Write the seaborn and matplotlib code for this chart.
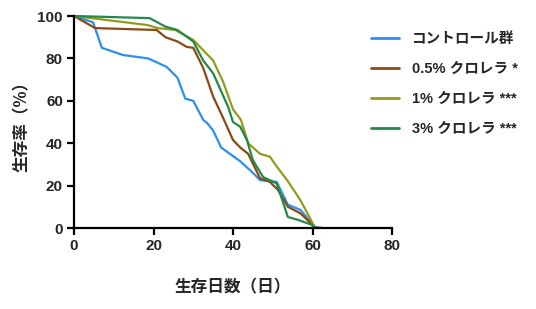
import matplotlib
matplotlib.use("Agg")
import matplotlib.pyplot as plt
import seaborn as sns
import pandas as pd

# ---- data ----
series_names = ["コントロール群", "0.5% クロレラ *", "1% クロレラ ***", "3% クロレラ ***"]
colors = ["#2C8EF2", "#8B4A14", "#959A1C", "#22894A"]

ctrl_x = [0, 4.8, 7, 12.3, 18.6, 21, 23.3, 26, 28, 30, 32.5, 33.5, 35, 37, 41.8, 45, 46.8, 51, 53.8, 57, 60.6, 62.6]
ctrl_y = [100, 97, 85, 81.6, 80, 78, 76, 71, 61, 60, 51, 49.5, 46, 38, 31.5, 26, 22.6, 21.7, 11, 8.5, 0.5, 0]

c05_x = [0, 5.3, 20.8, 23, 26, 28.4, 30, 32.5, 35, 37.5, 40, 41.8, 43.8, 46.8, 49.3, 51.3, 53.8, 56.9, 60, 61]
c05_y = [100, 94.3, 93.4, 90, 88, 85.4, 85, 75.5, 62, 52, 41.5, 38, 35, 23.5, 21.7, 18, 10, 7, 1.5, 0]

c1_x = [0, 18.6, 21, 25.5, 30, 35, 37.5, 40, 42, 43.8, 46.8, 49.3, 51, 53.6, 57, 60, 60.6]
c1_y = [100, 95.7, 94.3, 93.4, 88.7, 79, 69, 56, 51, 40, 35, 33.6, 29, 22.6, 13, 2.4, 0]

c3_x = [0, 19, 21, 23, 26, 30, 32.5, 35, 38.8, 40, 41.8, 43.5, 45, 47.6, 51, 53.8, 56.4, 60, 60.2]
c3_y = [100, 99, 97, 95, 93.4, 88, 79, 73, 57, 50, 47.8, 41.5, 32, 24, 21, 5.2, 3.8, 1.4, 0]

x_ticks = [0, 20, 40, 60, 80]
y_ticks = [0, 20, 40, 60, 80, 100]
x_label = "生存日数（日）"
y_label = "生存率（%）"

frames = []
for name, xs, ys in zip(series_names, [ctrl_x, c05_x, c1_x, c3_x], [ctrl_y, c05_y, c1_y, c3_y]):
    frames.append(pd.DataFrame({"day": xs, "surv": ys, "group": name, "order": range(len(xs))}))
df = pd.concat(frames, ignore_index=True)

sns.set_style("ticks")
plt.rcParams["font.family"] = ["Liberation Sans", "Noto Sans CJK JP"]
plt.rcParams["font.weight"] = "bold"

fig = plt.figure(figsize=(5.36, 3.09), dpi=100)
ax = fig.add_axes([74/536, 1-228/309, (392-74)/536, (228-16)/309])

sns.lineplot(data=df, x="day", y="surv", hue="group", hue_order=series_names,
             palette=colors, sort=False, estimator=None, units="group",
             linewidth=1.6, ax=ax, legend=True)

ax.set_xlim(0, 80)
ax.set_ylim(0, 100)
ax.set_xticks(x_ticks)
ax.set_yticks(y_ticks)
ax.tick_params(axis="both", width=1.6, length=5, labelsize=11, color="black", pad=3)
for lab in ax.get_xticklabels() + ax.get_yticklabels():
    lab.set_fontweight("bold")
for s in ["left", "bottom"]:
    ax.spines[s].set_linewidth(1.6)
    ax.spines[s].set_color("black")
    ax.spines[s].set_zorder(5)
for s in ["top", "right"]:
    ax.spines[s].set_visible(False)
for line in ax.lines:
    line.set_clip_on(False)

ax.set_xlabel(x_label, fontsize=12, fontweight="bold", family=["Noto Sans CJK JP"], labelpad=18)
ax.set_ylabel(y_label, fontsize=12, fontweight="bold", family=["Noto Sans CJK JP"], labelpad=5)

handles, labels = ax.get_legend_handles_labels()
ax.get_legend().remove()
leg = fig.legend(handles, labels, loc="upper left", bbox_to_anchor=(371/536, 1-32/309),
                 frameon=False, borderpad=0, borderaxespad=0, handlelength=1.9,
                 handletextpad=0.9, labelspacing=1.1,
                 prop={"family": ["Liberation Sans", "Noto Sans CJK JP"], "weight": "bold", "size": 10.5})
for h in leg.legend_handles:
    h.set_linewidth(2)

fig.savefig("out.png", dpi=100)
